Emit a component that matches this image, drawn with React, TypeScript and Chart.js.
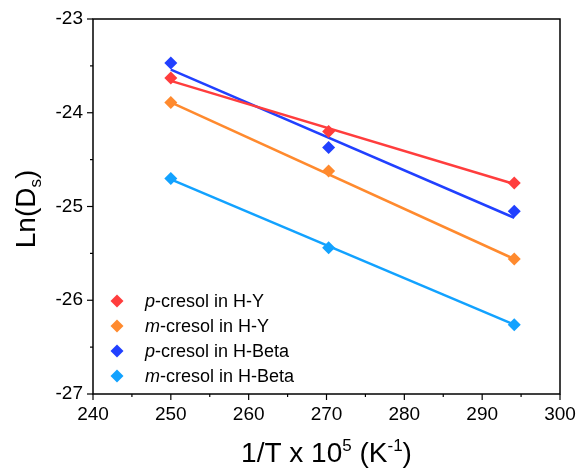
import React, { useEffect, useRef } from "react";
import { Chart, registerables } from "chart.js";

Chart.register(...registerables);

const xValues = [250, 270.27, 294.12];
const pCresolHY = [-23.63, -24.2, -24.75];
const mCresolHY = [-23.89, -24.62, -25.56];
const pCresolHBeta = [-23.47, -24.37, -25.05];
const mCresolHBeta = [-24.7, -25.44, -26.26];

const fitX = [250, 294.12];
const fitPCresolHY = [-23.66, -24.76];
const fitMCresolHY = [-23.89, -25.56];
const fitPCresolHBeta = [-23.54, -25.12];
const fitMCresolHBeta = [-24.71, -26.26];

const legendPrefixes = ["p", "m", "p", "m"];
const legendSuffixes = ["-cresol in H-Y", "-cresol in H-Y", "-cresol in H-Beta", "-cresol in H-Beta"];

const colors = ["#FF3D3D", "#FF8A2E", "#2140FF", "#12A2FF"];

const FONT = "'Liberation Sans', Arial, sans-serif";

const toPts = (xs: number[], ys: number[]) => xs.map((x, i) => ({ x, y: ys[i] }));

const decorPlugin = {
  id: "decor",
  afterDraw(chart: any) {
    const ctx = chart.ctx;
    const { left, right, top, bottom } = chart.chartArea;
    const xs = chart.scales.x;
    const ys = chart.scales.y;
    ctx.save();
    ctx.strokeStyle = "#000";
    ctx.lineWidth = 1.5;
    ctx.strokeRect(left, top, right - left, bottom - top);
    ctx.lineWidth = 1.2;
    for (let v = 240; v <= 300; v += 5) {
      const px = xs.getPixelForValue(v);
      const len = v % 10 === 0 ? 6 : 3;
      ctx.beginPath();
      ctx.moveTo(px, bottom);
      ctx.lineTo(px, bottom + len);
      ctx.stroke();
    }
    for (let v = -27; v <= -23; v += 0.5) {
      const py = ys.getPixelForValue(v);
      const len = Number.isInteger(v) ? 6 : 3;
      ctx.beginPath();
      ctx.moveTo(left, py);
      ctx.lineTo(left - len, py);
      ctx.stroke();
    }

    // legend
    const rows = [301, 326, 351, 376];
    ctx.textBaseline = "middle";
    rows.forEach((ry, i) => {
      const cx = 117;
      const r = 6.5;
      ctx.fillStyle = colors[i];
      ctx.beginPath();
      ctx.moveTo(cx, ry - r);
      ctx.lineTo(cx + r, ry);
      ctx.lineTo(cx, ry + r);
      ctx.lineTo(cx - r, ry);
      ctx.closePath();
      ctx.fill();
      ctx.fillStyle = "#000";
      ctx.font = `italic 18px ${FONT}`;
      ctx.textAlign = "left";
      ctx.fillText(legendPrefixes[i], 145, ry + 1);
      const w = ctx.measureText(legendPrefixes[i]).width;
      ctx.font = `18px ${FONT}`;
      ctx.fillText(legendSuffixes[i], 145 + w, ry + 1);
    });

    // x title
    const big = 28;
    const small = 17;
    const parts: [string, number, number][] = [
      ["1/T x 10", big, 0],
      ["5", small, -11],
      [" (K", big, 0],
      ["-1", small, -11],
      [")", big, 0],
    ];
    ctx.textBaseline = "alphabetic";
    let total = 0;
    parts.forEach(([t, s]) => {
      ctx.font = `${s}px ${FONT}`;
      total += ctx.measureText(t).width;
    });
    let x0 = (left + right) / 2 - total / 2;
    const baseY = 462;
    parts.forEach(([t, s, dy]) => {
      ctx.font = `${s}px ${FONT}`;
      ctx.fillText(t, x0, baseY + dy);
      x0 += ctx.measureText(t).width;
    });

    // y title
    const yparts: [string, number, number][] = [
      ["Ln(D", big, 0],
      ["s", small, 6],
      [")", big, 0],
    ];
    let ytotal = 0;
    yparts.forEach(([t, s]) => {
      ctx.font = `${s}px ${FONT}`;
      ytotal += ctx.measureText(t).width;
    });
    ctx.translate(35, 209);
    ctx.rotate(-Math.PI / 2);
    let y0 = -ytotal / 2;
    yparts.forEach(([t, s, dy]) => {
      ctx.font = `${s}px ${FONT}`;
      ctx.fillText(t, y0, dy);
      y0 += ctx.measureText(t).width;
    });
    ctx.restore();
  },
};

export default function App() {
  const ref = useRef<HTMLCanvasElement | null>(null);
  useEffect(() => {
    if (!ref.current) return;
    const pointDs = [pCresolHY, mCresolHY, pCresolHBeta, mCresolHBeta].map((ys, i) => ({
      type: "scatter" as const,
      label: legendPrefixes[i] + legendSuffixes[i],
      data: toPts(xValues, ys),
      pointStyle: "rectRot",
      pointRadius: 6.5,
      backgroundColor: colors[i],
      borderColor: colors[i],
      borderWidth: 0,
      showLine: false,
    }));
    const fitDs = [fitPCresolHY, fitMCresolHY, fitPCresolHBeta, fitMCresolHBeta].map((ys, i) => ({
      type: "scatter" as const,
      label: "fit " + i,
      data: toPts(fitX, ys),
      pointRadius: 0,
      borderColor: colors[i],
      backgroundColor: colors[i],
      borderWidth: 2.5,
      showLine: true,
    }));
    const chart = new Chart(ref.current, {
      type: "scatter",
      data: { datasets: [...pointDs, ...fitDs] as any },
      plugins: [decorPlugin],
      options: {
        animation: false,
        responsive: false,
        layout: { padding: { top: 19, right: 18, left: 0, bottom: 0 } },
        plugins: { legend: { display: false }, tooltip: { enabled: false } },
        scales: {
          x: {
            type: "linear",
            min: 240,
            max: 300,
            afterFit: (s: any) => {
              s.height = 74;
              s.paddingLeft = 0;
              s.paddingRight = 0;
            },
            grid: { display: false, drawTicks: false },
            border: { display: false },
            ticks: {
              stepSize: 10,
              padding: 9,
              color: "#000",
              font: { family: FONT, size: 19 },
            },
          },
          y: {
            type: "linear",
            min: -27,
            max: -23,
            afterFit: (s: any) => {
              s.width = 93;
              s.paddingTop = 0;
              s.paddingBottom = 0;
            },
            grid: { display: false, drawTicks: false },
            border: { display: false },
            ticks: {
              stepSize: 1,
              padding: 10,
              color: "#000",
              font: { family: FONT, size: 19 },
            },
          },
        },
      } as any,
    });
    return () => chart.destroy();
  }, []);
  return (
    <div style={{ position: "fixed", left: 0, top: 0, width: 578, height: 468, background: "#fff" }}>
      <canvas ref={ref} width={578} height={468} />
    </div>
  );
}
